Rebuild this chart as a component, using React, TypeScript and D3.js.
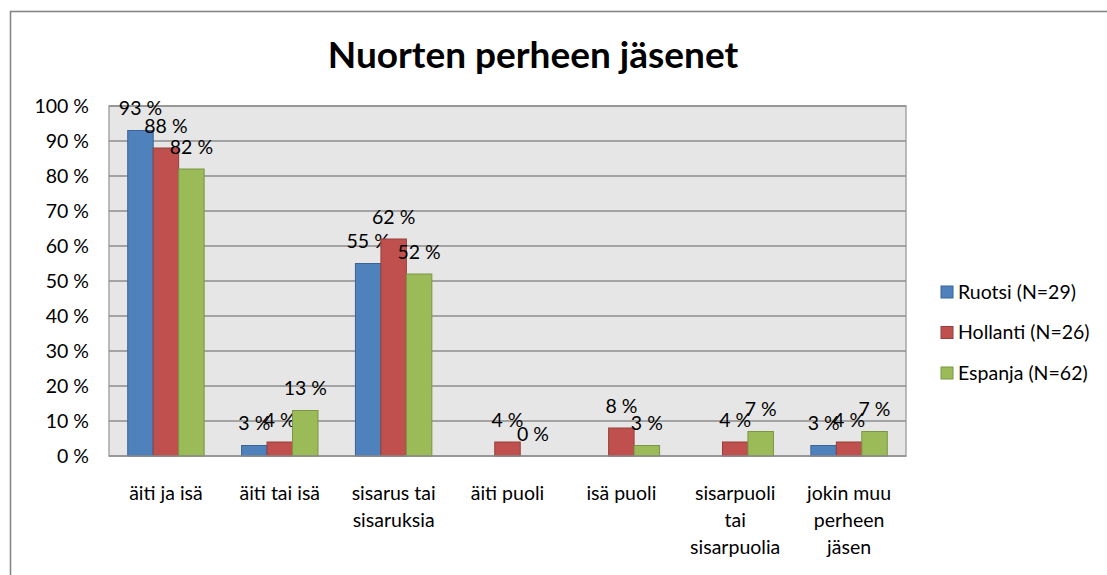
import { useMemo } from 'react';
import * as d3 from 'd3';

const categories = [
    'äiti ja isä',
    'äiti tai isä',
    'sisarus tai\nsisaruksia',
    'äiti puoli',
    'isä puoli',
    'sisarpuoli\ntai\nsisarpuolia',
    'jokin muu\nperheen\njäsen',
];

const seriesNames = ['Ruotsi (N=29)', 'Hollanti (N=26)', 'Espanja (N=62)'];

const ruotsi: (number | null)[] = [93, 3, 55, null, null, null, 3];
const hollanti: (number | null)[] = [88, 4, 62, 4, 8, 4, 4];
const espanja: (number | null)[] = [82, 13, 52, 0, 3, 7, 7];

const yTicks = [0, 10, 20, 30, 40, 50, 60, 70, 80, 90, 100];

const fills = ['#4F81BD', '#C0504D', '#9BBB59'];
const strokes = ['#3A6495', '#93403D', '#7A9545'];

const FONT = 'Lato, "Open Sans", sans-serif';
const FS = 19.5;

export default function App() {
    const width = 1107;
    const height = 575;
    const plot = { left: 109, right: 906, top: 106, bottom: 456 };

    const series = [ruotsi, hollanti, espanja];

    const x = useMemo(() => d3.scaleBand<string>()
        .domain(categories)
        .range([plot.left, plot.right])
        .paddingInner(0)
        .paddingOuter(0), []);

    // groups of three bars, Excel-like gap between groups
    const inner = useMemo(() => d3.scaleBand<number>()
        .domain([0, 1, 2])
        .range([0, x.bandwidth()])
        .paddingInner(0)
        .paddingOuter(0.735), [x]);

    const y = useMemo(() => d3.scaleLinear()
        .domain([0, 100])
        .range([plot.bottom, plot.top]), []);

    return (
        <svg width={width} height={height}
            style={{ position: 'fixed', top: 0, left: 0, background: '#fff' }}
            fontFamily={FONT}>
            {/* chart frame */}
            <rect x={10.5} y={11.5} width={1120} height={600} fill="#fff" stroke="#868686" strokeWidth={1.6} />

            <text x={533} y={68} textAnchor="middle" fontSize={37} fontWeight="bold" fill="#000">
                Nuorten perheen jäsenet
            </text>

            {/* plot area */}
            <rect x={plot.left} y={plot.top} width={plot.right - plot.left} height={plot.bottom - plot.top}
                fill="#E6E6E6" stroke="#A6A6A6" strokeWidth={1.5} />

            {yTicks.map(t => (
                <g key={t}>
                    {t > 0 && (
                        <line x1={plot.left} x2={plot.right} y1={y(t)} y2={y(t)} stroke="#8C8C8C" strokeWidth={1.4} />
                    )}
                    <text x={89} y={y(t)} dy="0.35em" textAnchor="end" fontSize={FS} fill="#000">
                        {t} %
                    </text>
                </g>
            ))}

            {/* bars */}
            {series.map((vals, si) => (
                <g key={si}>
                    {vals.map((v, ci) => {
                        if (v === null) return null;
                        const bx = (x(categories[ci]) ?? 0) + (inner(si) ?? 0);
                        const bw = inner.bandwidth();
                        return (
                            <g key={ci}>
                                {v > 0 && (
                                    <rect x={bx} y={y(v)} width={bw} height={y(0) - y(v)}
                                        fill={fills[si]} stroke={strokes[si]} strokeWidth={1} />
                                )}
                                <text x={bx + bw / 2} y={y(v) - 22} dy="0.35em" textAnchor="middle" fontSize={FS} fill="#000">
                                    {v} %
                                </text>
                            </g>
                        );
                    })}
                </g>
            ))}

            {/* bottom axis line */}
            <line x1={plot.left} x2={plot.right} y1={plot.bottom} y2={plot.bottom} stroke="#8C8C8C" strokeWidth={1.6} />

            {/* category labels */}
            {categories.map(c => {
                const cx = (x(c) ?? 0) + x.bandwidth() / 2;
                return (
                    <text key={c} x={cx} y={493} textAnchor="middle" fontSize={FS} fill="#000">
                        {c.split('\n').map((line, i) => (
                            <tspan key={i} x={cx} dy={i === 0 ? '0.35em' : 27}>{line}</tspan>
                        ))}
                    </text>
                );
            })}

            {/* legend */}
            {seriesNames.map((name, i) => {
                const ly = 292 + i * 40.5;
                return (
                    <g key={name}>
                        <rect x={941} y={ly - 6} width={12} height={12} fill={fills[i]} stroke={strokes[i]} strokeWidth={1} />
                        <text x={958} y={ly} dy="0.35em" fontSize={FS} fill="#000">{name}</text>
                    </g>
                );
            })}
        </svg>
    );
}
